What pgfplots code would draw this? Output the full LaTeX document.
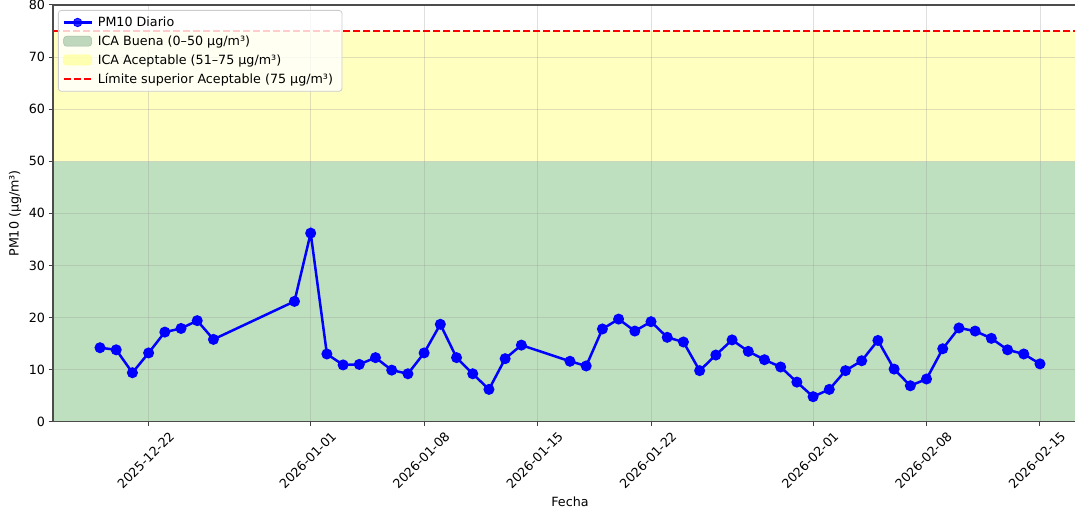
\documentclass[border=0pt]{standalone}
\usepackage{fontspec}
\setmainfont{DejaVu Sans}
\usepackage{pgfplots}
\pgfplotsset{compat=1.18}
\definecolor{buena}{RGB}{191,224,191}
\definecolor{aceptable}{RGB}{255,255,191}
\definecolor{pmblue}{RGB}{0,0,255}
\definecolor{legedge}{RGB}{204,204,204}
\definecolor{gridc}{RGB}{150,150,150}
\begin{document}
\begin{tikzpicture}[font=\fontsize{12.7pt}{15pt}\selectfont]
\begin{axis}[
  set layers=standard,
  at={(53pt,91.3pt)}, anchor=south west,
  scale only axis, width=1034pt, height=416.7pt,
  xmin=-15.9, xmax=47.9, ymin=0, ymax=80,
  xtick={-10,0,7,14,21,31,38,45},
  xticklabels={2025-12-22,2026-01-01,2026-01-08,2026-01-15,2026-01-22,2026-02-01,2026-02-08,2026-02-15},
  ytick={0,10,...,80},
  /pgf/number format/assume math mode=true,
  xticklabel style={yshift=-34pt, xshift=-3pt, rotate=45, anchor=center},
  tick align=outside, tick pos=left,
  major tick length=4.5pt,
  tick style={black!75, line width=1pt},
  axis line style={black!70, line width=1.3pt},
  grid=major,
  major grid style={gridc, opacity=0.3, line width=0.9pt},
  xlabel={Fecha},
  ylabel={PM10 (µg/m³)},
  xlabel style={at={(axis description cs:0.5,-0.192)}, anchor=center},
  ylabel style={at={(axis description cs:-0.0367,0.5)}, anchor=center},
  legend cell align=left,
  legend style={at={(0.0048,0.988)}, anchor=north west,
    draw=legedge, line width=0.8pt, rounded corners=3pt,
    fill=white, fill opacity=0.8, text opacity=1, draw opacity=1,
    inner xsep=4pt, inner ysep=5.5pt,
    row sep=5.6pt,
    /tikz/every odd column/.append style={column sep=0pt},
    nodes={inner xsep=5pt, inner ysep=1pt}},
]
\addplot[on layer=axis background, fill=buena, draw=none, forget plot]
  coordinates {(-15.9,0) (47.9,0) (47.9,50) (-15.9,50)} \closedcycle;
\addplot[on layer=axis background, fill=aceptable, draw=none, forget plot]
  coordinates {(-15.9,50) (47.9,50) (47.9,75) (-15.9,75)} \closedcycle;
\addplot[red, line width=2.2pt, dash pattern=on 7pt off 3pt, forget plot]
  coordinates {(-15.9,75) (47.9,75)};
\addplot[pmblue, line width=2.5pt, mark=*, mark size=4.2pt, mark options={solid, fill=pmblue, draw=pmblue}, forget plot]
  coordinates {
(-13,14.2) (-12,13.8) (-11,9.4) (-10,13.2) (-9,17.2) (-8,17.9) (-7,19.4) (-6,15.8)
(-1,23.1) (0,36.2) (1,13.0) (2,10.9) (3,11.0) (4,12.3) (5,9.9) (6,9.2) (7,13.2)
(8,18.7) (9,12.3) (10,9.2) (11,6.2) (12,12.1) (13,14.7) (16,11.6) (17,10.7)
(18,17.8) (19,19.7) (20,17.4) (21,19.2) (22,16.2) (23,15.3) (24,9.8) (25,12.8)
(26,15.7) (27,13.5) (28,11.9) (29,10.5) (30,7.6) (31,4.8) (32,6.2) (33,9.8)
(34,11.7) (35,15.6) (36,10.1) (37,6.9) (38,8.2) (39,14.0) (40,18.0) (41,17.4)
(42,16.0) (43,13.8) (44,13.0) (45,11.1)
  };
\addlegendimage{legend image code/.code={
  \draw[pmblue, line width=2.5pt] (0pt,0pt) -- (28pt,0pt);
  \fill[pmblue] (14pt,0pt) circle (4.2pt);}}
\addlegendentry{PM10 Diario}
\addlegendimage{legend image code/.code={
  \fill[draw=buena!85!black, line width=0.5pt, fill=buena!92!black] (0pt,-5pt) rectangle (28pt,5pt);}}
\addlegendentry{ICA Buena (0–50 µg/m³)}
\addlegendimage{legend image code/.code={
  \fill[aceptable!85!yellow] (0pt,-5pt) rectangle (28pt,5pt);}}
\addlegendentry{ICA Aceptable (51–75 µg/m³)}
\addlegendimage{legend image code/.code={
  \draw[red, line width=2.2pt, dash pattern=on 7pt off 3pt] (0pt,0pt) -- (28pt,0pt);}}
\addlegendentry{Límite superior Aceptable (75 µg/m³)}
\end{axis}
\pgfresetboundingbox
\useasboundingbox (0,0) rectangle (1075pt,513pt);
\end{tikzpicture}
\end{document}
